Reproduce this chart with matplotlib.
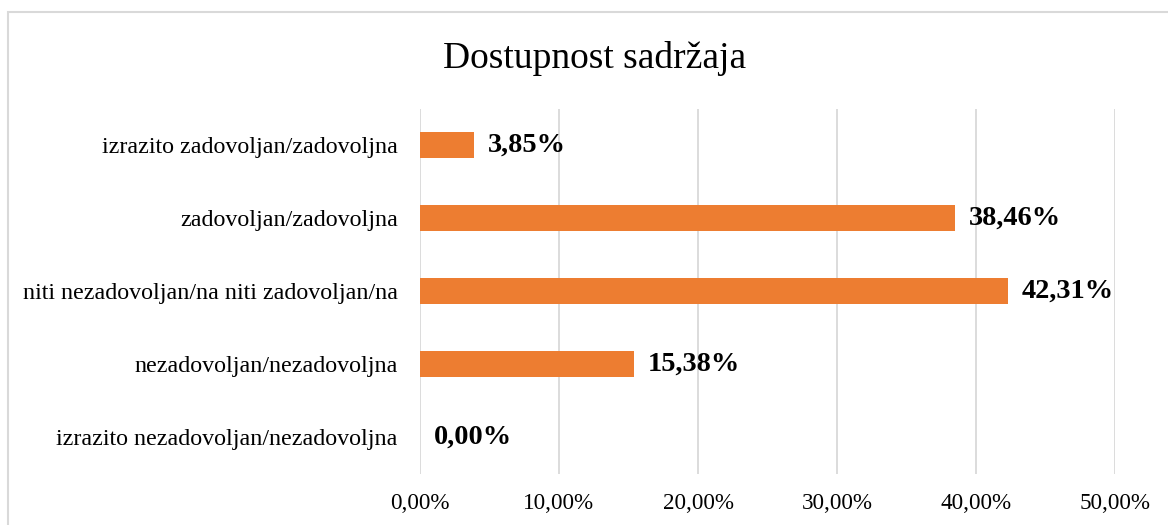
import matplotlib
matplotlib.use("Agg")
import matplotlib.pyplot as plt
from matplotlib.patches import Rectangle

categories = [
    "izrazito nezadovoljan/nezadovoljna",
    "nezadovoljan/nezadovoljna",
    "niti nezadovoljan/na niti zadovoljan/na",
    "zadovoljan/zadovoljna",
    "izrazito zadovoljan/zadovoljna",
]
values = [0.00, 15.38, 42.31, 38.46, 3.85]
value_labels = ["0,00%", "15,38%", "42,31%", "38,46%", "3,85%"]
tick_values = [0, 10, 20, 30, 40, 50]
tick_labels = ["0,00%", "10,00%", "20,00%", "30,00%", "40,00%", "50,00%"]
title = "Dostupnost sadržaja"

plt.rcParams['font.family'] = ['Liberation Serif', 'DejaVu Serif']

W, H = 1168, 525
fig = plt.figure(figsize=(W / 100, H / 100), dpi=100)
ax = fig.add_axes([420 / W, 1 - 473.5 / H, (1115 - 420) / W, (473.5 - 108.5) / H])

y = list(range(len(categories)))
ax.barh(y, values, height=0.355, color="#ED7D31", zorder=3)
ax.set_xlim(0, 50)
ax.set_ylim(-0.5, len(categories) - 0.5)
ax.set_xticks(tick_values)
ax.set_xticklabels(tick_labels, fontsize=16.7)
ax.set_yticks(y)
ax.set_yticklabels(categories, fontsize=17.3)
ax.tick_params(axis='both', length=0, colors='#000000')
ax.tick_params(axis='x', pad=14)
ax.tick_params(axis='y', pad=16)
ax.grid(axis='x', color='#D9D9D9', linewidth=1.3, zorder=0)
for s in ax.spines.values():
    s.set_visible(False)

for yi, v, lab in zip(y, values, value_labels):
    ax.annotate(lab, xy=(v, yi), xytext=(10, 0), textcoords='offset points',
                ha='left', va='center', fontsize=20.4, fontweight='bold', color='#000000')

fig.text((443 + 747) / 2 / W, 1 - 58 / H, title, ha='center', va='center', fontsize=27, color='#000000')

fig.patches.append(Rectangle((8 / W, -0.05), 1.1, 1 - 12 / H + 0.05, transform=fig.transFigure,
                             fill=False, edgecolor='#D9D9D9', linewidth=1.5, clip_on=False))

fig.savefig("out.png", dpi=100, facecolor='white')
